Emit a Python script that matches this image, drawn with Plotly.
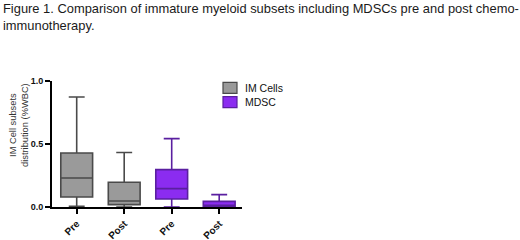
import plotly.graph_objects as go

categories = ["Pre", "Post", "Pre", "Post"]
series_names = ["IM Cells", "MDSC"]
series_fill = ["#9a9a9a", "#8b2cf0"]
series_line = ["#4a4a4a", "#5a1fa0"]
# box statistics (fraction of WBC)
im_lower = [0.005, 0.0]
im_q1 = [0.079, 0.019]
im_median = [0.23, 0.048]
im_q3 = [0.429, 0.196]
im_upper = [0.873, 0.432]
mdsc_lower = [0.0, 0.0]
mdsc_q1 = [0.063, 0.004]
mdsc_median = [0.146, 0.013]
mdsc_q3 = [0.297, 0.045]
mdsc_upper = [0.543, 0.098]

FONT = "Liberation Sans, Arial, sans-serif"

fig = go.Figure()
fig.add_trace(go.Box(
    name=series_names[0], x=[0, 1],
    lowerfence=im_lower, q1=im_q1, median=im_median, q3=im_q3, upperfence=im_upper,
    fillcolor=series_fill[0], line=dict(color=series_line[0], width=1.6),
    width=0.67, whiskerwidth=0.5, boxpoints=False, showlegend=False,
))
fig.add_trace(go.Box(
    name=series_names[1], x=[2, 3],
    lowerfence=mdsc_lower, q1=mdsc_q1, median=mdsc_median, q3=mdsc_q3, upperfence=mdsc_upper,
    fillcolor=series_fill[1], line=dict(color=series_line[1], width=1.6),
    width=0.67, whiskerwidth=0.5, boxpoints=False, showlegend=False,
))

W, H = 520, 240
L, R, T, B = 52, 278, 81, 33
PW, PH = W - L - R, H - T - B


def px_x(x):
    return (x - L) / PW


def px_y(y):
    return (H - B - y) / PH


fig.update_layout(
    width=W, height=H,
    margin=dict(l=L, r=R, t=T, b=B, autoexpand=False),
    paper_bgcolor="white", plot_bgcolor="white",
    font=dict(family=FONT, color="#111"),
    boxmode="overlay",
    showlegend=False,
)
fig.update_xaxes(
    range=[-0.52, 3.48],
    tickvals=[0, 1, 2, 3], ticktext=categories,
    tickangle=-45,
    tickfont=dict(family=FONT, size=10, weight="bold", color="#111"),
    showline=True, linecolor="black", linewidth=2,
    ticks="outside", ticklen=5, tickwidth=1.5, tickcolor="black",
    showgrid=False, zeroline=False, automargin=False,
)
fig.update_yaxes(
    range=[0, 1.0],
    tickvals=[0, 0.5, 1.0], ticktext=["0.0", "0.5", "1.0"],
    tickfont=dict(family=FONT, size=9, weight="bold", color="#111"),
    showline=True, linecolor="black", linewidth=2,
    ticks="outside", ticklen=5, tickwidth=1.5, tickcolor="black",
    showgrid=False, zeroline=False, automargin=False,
)
# figure caption
fig.add_annotation(
    text="Figure 1. Comparison of immature myeloid subsets including MDSCs pre and post chemo-<br>immunotherapy.",
    xref="paper", yref="paper", x=px_x(1), y=px_y(-1),
    xanchor="left", yanchor="top", align="left", showarrow=False,
    font=dict(family=FONT, size=12.9, color="#1a1a1a"),
)
# y-axis title
fig.add_annotation(
    text="IM Cell subsets<br>distribution (%WBC)",
    xref="paper", yref="paper",
    x=px_x(19), y=px_y(125),
    xanchor="center", yanchor="middle",
    textangle=-90, showarrow=False,
    font=dict(family=FONT, size=9.3, color="#333"),
)
# legend (key squares + labels)
key_rows = [87.8, 102.2]
for name, fill, line, yc in zip(series_names, series_fill, series_line, key_rows):
    fig.add_shape(
        type="rect", xref="paper", yref="paper",
        x0=px_x(223), x1=px_x(237), y0=px_y(yc - 5.5), y1=px_y(yc + 5.5),
        fillcolor=fill, line=dict(color=line, width=1.2),
    )
    fig.add_annotation(
        text=name, xref="paper", yref="paper",
        x=px_x(243), y=px_y(yc), xanchor="left", yanchor="middle",
        showarrow=False, font=dict(family=FONT, size=10.5, color="#111"),
    )
fig.write_html(
    "out.html",
    config={"displayModeBar": False},
    post_script="document.body.style.margin='0';document.body.style.overflow='hidden';",
)
